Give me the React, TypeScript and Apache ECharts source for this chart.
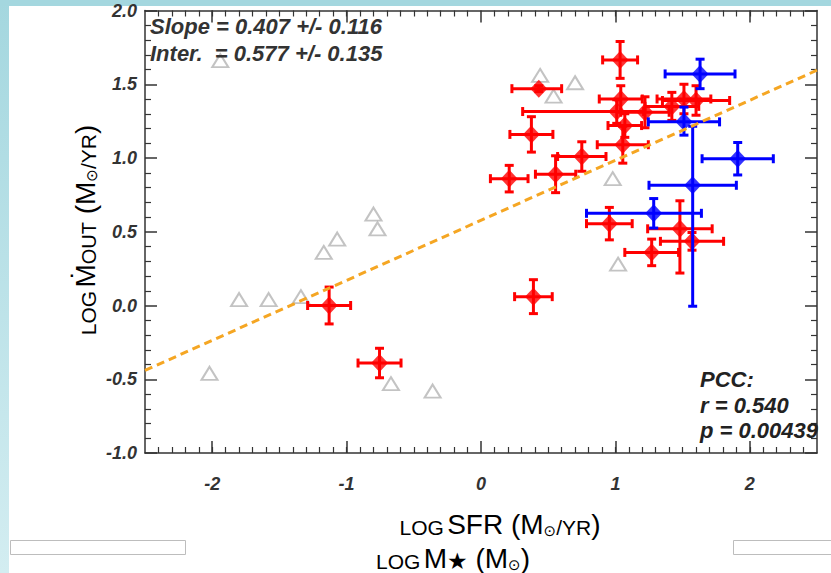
import React, { useEffect, useRef } from "react";
import * as echarts from "echarts";

// Gray open triangles (upper limits / other sample)
const grayX = [-1.94, 0.44, 0.54, 0.7, 0.98, 1.02, -0.36, -2.02, -1.8, -1.58, -1.34, -1.17, -1.07, -0.8, -0.77, -0.67];
const grayY = [1.66, 1.56, 1.42, 1.51, 0.86, 0.28, -0.58, -0.46, 0.04, 0.04, 0.06, 0.36, 0.45, 0.62, 0.52, -0.53];

// Red diamonds with error bars
const redX = [-1.13, -0.755, 0.39, 0.21, 0.375, 0.43, 0.555, 0.75, 1.035, 1.04, 1.01, 1.07, 1.055, 1.22, 1.42, 1.51, 1.6, 0.955, 1.27, 1.48, 1.57];
const redY = [0.0, -0.39, 0.06, 0.86, 1.16, 1.47, 0.89, 1.01, 1.665, 1.4, 1.315, 1.22, 1.09, 1.31, 1.35, 1.4, 1.39, 0.555, 0.36, 0.52, 0.435];
const redXErrLo = [0.16, 0.16, 0.14, 0.14, 0.16, 0.2, 0.15, 0.18, 0.13, 0.16, 0.7, 0.125, 0.19, 0.18, 0.2, 0.2, 0.25, 0.17, 0.2, 0.24, 0.235];
const redXErrHi = [0.16, 0.16, 0.14, 0.14, 0.16, 0.17, 0.15, 0.18, 0.13, 0.16, 0.2, 0.125, 0.19, 0.18, 0.2, 0.2, 0.25, 0.17, 0.2, 0.24, 0.235];
const redYErrLo = [0.125, 0.1, 0.115, 0.09, 0.12, 0.02, 0.125, 0.1, 0.125, 0.09, 0.08, 0.08, 0.125, 0.105, 0.095, 0.1, 0.1, 0.11, 0.09, 0.3, 0.06];
const redYErrHi = [0.125, 0.1, 0.115, 0.09, 0.12, 0.02, 0.125, 0.1, 0.125, 0.09, 0.08, 0.08, 0.125, 0.105, 0.095, 0.1, 0.1, 0.11, 0.09, 0.19, 0.06];

// Blue diamonds with error bars
const blueX = [1.63, 1.51, 1.91, 1.575, 1.285];
const blueY = [1.57, 1.245, 0.995, 0.815, 0.625];
const blueXErrLo = [0.26, 0.265, 0.265, 0.325, 0.5];
const blueXErrHi = [0.26, 0.265, 0.265, 0.325, 0.355];
const blueYErrLo = [0.1, 0.09, 0.11, 0.82, 0.1];
const blueYErrHi = [0.1, 0.1, 0.11, 0.4, 0.1];

// Linear fit (dashed)
const fitX = [-2.5, 2.5];
const fitY = [-0.44, 1.595];

const xTickValues = [-2, -1, 0, 1, 2];

const FONT = "'Liberation Sans', Arial, Helvetica, sans-serif";
const SYM = "'DejaVu Sans', sans-serif";
const AXIS_COLOR = "#333";

function errData(xs: number[], ys: number[], xl: number[], xh: number[], yl: number[], yh: number[]) {
  return xs.map((x, i) => [x, ys[i], xl[i], xh[i], yl[i], yh[i]]);
}

function makeErrRender(color: string) {
  return (params: any, api: any) => {
    const x = api.value(0);
    const y = api.value(1);
    const l = api.coord([x - api.value(2), y]);
    const r = api.coord([x + api.value(3), y]);
    const b = api.coord([x, y - api.value(4)]);
    const t = api.coord([x, y + api.value(5)]);
    const c = 4.5;
    const style = { stroke: color, lineWidth: 3 };
    const line = (x1: number, y1: number, x2: number, y2: number) => ({
      type: "line",
      shape: { x1, y1, x2, y2 },
      style,
    });
    return {
      type: "group",
      children: [
        line(l[0], l[1], r[0], r[1]),
        line(l[0], l[1] - c, l[0], l[1] + c),
        line(r[0], r[1] - c, r[0], r[1] + c),
        line(b[0], b[1], t[0], t[1]),
        line(b[0] - c, b[1], b[0] + c, b[1]),
        line(t[0] - c, t[1], t[0] + c, t[1]),
      ],
    };
  };
}

function xAxisDef(position: "bottom" | "top", showLabel: boolean) {
  return {
    type: "value",
    position,
    min: -2.5,
    max: 2.5,
    interval: 2.5,
    axisLine: { show: true, onZero: false, lineStyle: { color: AXIS_COLOR, width: 1.5 } },
    axisTick: {
      show: true,
      inside: true,
      length: 12,
      customValues: xTickValues,
      lineStyle: { color: AXIS_COLOR, width: 1.5 },
    },
    minorTick: { show: true, splitNumber: 25, length: 6, lineStyle: { color: AXIS_COLOR, width: 1.2 } },
    axisLabel: {
      show: showLabel,
      customValues: xTickValues,
      margin: 22,
      fontSize: 18,
      fontWeight: "bold",
      fontStyle: "italic",
      color: AXIS_COLOR,
      fontFamily: FONT,
      formatter: (v: number) => String(v),
    },
    splitLine: { show: false },
    minorSplitLine: { show: false },
  };
}

function yAxisDef(position: "left" | "right", showLabel: boolean) {
  return {
    type: "value",
    position,
    min: -1,
    max: 2,
    interval: 0.5,
    axisLine: { show: true, onZero: false, lineStyle: { color: AXIS_COLOR, width: 1.5 } },
    axisTick: { show: true, inside: true, length: 12, lineStyle: { color: AXIS_COLOR, width: 1.5 } },
    minorTick: { show: true, splitNumber: 5, length: 6, lineStyle: { color: AXIS_COLOR, width: 1.2 } },
    axisLabel: {
      show: showLabel,
      margin: 8,
      fontSize: 18,
      fontWeight: "bold",
      fontStyle: "italic",
      color: AXIS_COLOR,
      fontFamily: FONT,
      formatter: (v: number) => v.toFixed(1),
    },
    splitLine: { show: false },
    minorSplitLine: { show: false },
  };
}

const titleRich = {
  cap: { font: `28px ${FONT}`, fill: "#000", lineHeight: 34, verticalAlign: "bottom" },
  sc: { font: `21px ${FONT}`, fill: "#000", lineHeight: 29, verticalAlign: "bottom" },
  scsub: { font: `20px ${FONT}`, fill: "#000", lineHeight: 24, verticalAlign: "bottom" },
  sub: { font: `15px ${SYM}`, fill: "#000", lineHeight: 16, verticalAlign: "bottom" },
  star: { font: `23px ${SYM}`, fill: "#000", lineHeight: 17, verticalAlign: "bottom" },
};

const statStyle = (text: string, x: number, y: number, color: string) => ({
  type: "text",
  x,
  y,
  z: 50,
  style: {
    text,
    fill: color,
    font: `italic bold 22px ${FONT}`,
    align: "left",
    verticalAlign: "middle",
  },
});

export default function App() {
  const ref = useRef<HTMLDivElement>(null);

  useEffect(() => {
    if (!ref.current) return;
    const chart = echarts.init(ref.current, null, { renderer: "svg" });

    const option: any = {
      animation: false,
      backgroundColor: "#ffffff",
      grid: { left: 145, right: 14, top: 10.5, bottom: 120, containLabel: false },
      xAxis: [xAxisDef("bottom", true), xAxisDef("top", false)],
      yAxis: [yAxisDef("left", true), yAxisDef("right", false)],
      series: [
        {
          type: "scatter",
          name: "gray",
          data: grayX.map((x, i) => [x, grayY[i]]),
          symbol: "triangle",
          symbolSize: [16, 13],
          itemStyle: { color: "rgba(255,255,255,0)", borderColor: "#b4b4b4", borderWidth: 2 },
          z: 2,
        },
        {
          type: "custom",
          name: "redErr",
          data: errData(redX, redY, redXErrLo, redXErrHi, redYErrLo, redYErrHi),
          encode: { x: 0, y: 1 },
          renderItem: makeErrRender("#ff0000"),
          z: 3,
        },
        {
          type: "scatter",
          name: "red",
          data: redX.map((x, i) => [x, redY[i]]),
          symbol: "diamond",
          symbolSize: [17, 18],
          itemStyle: { color: "#ff0000" },
          z: 4,
        },
        {
          type: "custom",
          name: "blueErr",
          data: errData(blueX, blueY, blueXErrLo, blueXErrHi, blueYErrLo, blueYErrHi),
          encode: { x: 0, y: 1 },
          renderItem: makeErrRender("#0000ff"),
          z: 5,
        },
        {
          type: "scatter",
          name: "blue",
          data: blueX.map((x, i) => [x, blueY[i]]),
          symbol: "diamond",
          symbolSize: [17, 18],
          itemStyle: { color: "#0000ff" },
          z: 6,
        },
        {
          type: "line",
          name: "fit",
          data: fitX.map((x, i) => [x, fitY[i]]),
          showSymbol: false,
          symbol: "none",
          lineStyle: { color: "#f5a623", width: 3, type: [8, 5] },
          z: 7,
        },
      ],
      graphic: [
        {
          type: "rect",
          x: 0,
          y: 0,
          z: 0,
          shape: { width: 9, height: 573 },
          style: {
            fill: new echarts.graphic.LinearGradient(0, 0, 0, 1, [
              { offset: 0, color: "#a4d7df" },
              { offset: 1, color: "#d3edf1" },
            ]),
          },
        },
        { type: "rect", x: 0, y: 0, z: 0, shape: { width: 831, height: 6 }, style: { fill: "#a4d7df" } },
        { type: "rect", x: 10.5, y: 540.5, z: 0, shape: { width: 175, height: 14 }, style: { fill: "#fff", stroke: "#bdbdbd", lineWidth: 1 } },
        { type: "rect", x: 733.5, y: 540.5, z: 0, shape: { width: 100, height: 14 }, style: { fill: "#fff", stroke: "#bdbdbd", lineWidth: 1 } },
        statStyle("Slope = 0.407 +/- 0.116", 150, 26, "#333"),
        statStyle("Inter.  = 0.577 +/- 0.135", 150, 53, "#333"),
        statStyle("PCC:", 700, 379, "#222"),
        statStyle("r = 0.540", 700, 405, "#222"),
        statStyle("p = 0.00439", 700, 430, "#222"),
        {
          type: "text",
          x: 500,
          y: 521,
          z: 50,
          style: {
            text: "{sc|LOG} {cap|SFR (M}{sub|⊙}{sc|/YR}{cap|)}",
            rich: titleRich,
            align: "center",
            verticalAlign: "middle",
          },
        },
        {
          type: "text",
          x: 453,
          y: 555,
          z: 50,
          style: {
            text: "{sc|LOG} {cap|M}{star|★}{cap| (M}{sub|⊙}{cap|)}",
            rich: titleRich,
            align: "center",
            verticalAlign: "middle",
          },
        },
        {
          type: "text",
          x: 82,
          y: 230,
          z: 50,
          rotation: Math.PI / 2,
          style: {
            text: "{sc|LOG} {cap|Ṁ}{scsub|OUT}{cap| (M}{sub|⊙}{sc|/YR}{cap|)}",
            rich: titleRich,
            align: "center",
            verticalAlign: "middle",
          },
        },
      ],
    };

    chart.setOption(option);
    return () => {
      chart.dispose();
    };
  }, []);

  return (
    <div
      ref={ref}
      style={{ position: "absolute", left: 0, top: 0, width: 831, height: 573, background: "#fff" }}
    />
  );
}
